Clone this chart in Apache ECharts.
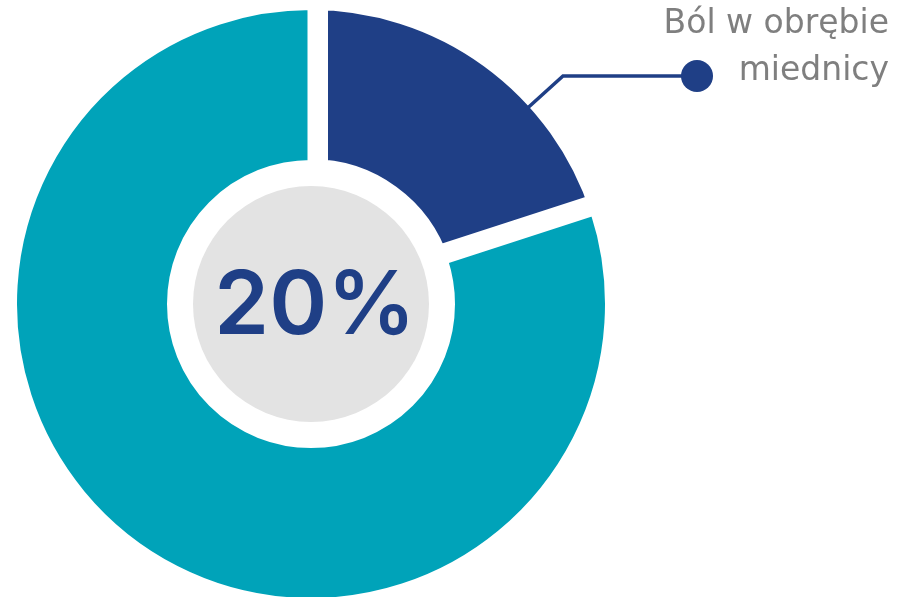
<!DOCTYPE html>
<html>
<head>
<meta charset="utf-8">
<script src="https://cdn.jsdelivr.net/npm/echarts@6/dist/echarts.min.js"></script>
<style>html,body{margin:0;padding:0;background:#fff}#c{width:905px;height:597px}</style>
</head>
<body>
<div id="c"></div>
<script>
const categories = ['Ból w obrębie\nmiednicy', 'Pozostałe'];
const values = [20, 80];
const colors = ['#1f3f86', '#00a3b9'];
const centerLabel = values[0] + '%';

// layout constants (not data)
const CX = 311, CY = 304, R_VIS = 294;
const DOT_X = 697, DOT_Y = 76, DOT_R = 16, LEN2 = 134;

const chart = echarts.init(document.getElementById('c'), null, {renderer: 'canvas'});
chart.setOption({
  animation: false,
  backgroundColor: '#ffffff',
  title: {
    text: categories[0],
    left: 889,
    top: 1,
    padding: 0,
    textAlign: 'right',
    textStyle: {
      fontFamily: 'DejaVu Sans',
      fontWeight: 400,
      fontSize: 33,
      lineHeight: 47,
      color: '#7f7f7f'
    }
  },
  series: [
    // highlighted slice (inset by its white border)
    {
      type: 'pie',
      center: [CX, CY],
      radius: [128, 311],
      startAngle: 90,
      silent: true,
      z: 2,
      label: {show: false},
      labelLine: {show: false},
      data: categories.map((c, i) => ({
        name: c,
        value: values[i],
        itemStyle: i === 0
          ? {color: colors[0], borderColor: '#ffffff', borderWidth: 34}
          : {color: 'rgba(0,0,0,0)', borderWidth: 0}
      }))
    },
    // remaining slice (thin white border) + leader for the highlighted slice
    {
      type: 'pie',
      center: [CX, CY],
      radius: [140.5, 297.5],
      startAngle: 90,
      silent: true,
      z: 3,
      data: categories.map((c, i) => ({
        name: c,
        value: values[i],
        itemStyle: i === 1
          ? {color: colors[1], borderColor: '#ffffff', borderWidth: 7}
          : {color: 'rgba(0,0,0,0)', borderWidth: 0},
        label: i === 0 ? {
          show: true,
          position: 'outside',
          formatter: ' ',
          width: DOT_R * 2,
          height: DOT_R * 2,
          borderRadius: DOT_R,
          backgroundColor: colors[0],
          padding: 0,
          fontSize: 10
        } : {show: false},
        labelLine: i === 0 ? {
          show: true,
          length: 20,
          length2: LEN2,
          lineStyle: {color: colors[0], width: 3.5}
        } : {show: false}
      })),
      labelLayout: function (p) {
        if (p.dataIndex !== 0) return {};
        const end = [DOT_X, DOT_Y];
        const turn = [DOT_X - LEN2, DOT_Y];
        const dx = turn[0] - CX, dy = turn[1] - CY;
        const d = Math.sqrt(dx * dx + dy * dy);
        const start = [CX + dx / d * (R_VIS - 3), CY + dy / d * (R_VIS - 3)];
        return {
          x: DOT_X, y: DOT_Y, align: 'center', verticalAlign: 'middle',
          labelLinePoints: [start, turn, end]
        };
      }
    },
    // grey centre disc with the percentage
    {
      type: 'pie',
      center: [CX, CY],
      radius: [0, 118],
      silent: true,
      z: 5,
      data: [{value: 1, name: 'center'}],
      itemStyle: {color: '#e3e3e3'},
      label: {
        show: true,
        position: 'center',
        formatter: () => centerLabel,
        fontFamily: 'Inter',
        fontWeight: 600,
        fontSize: 88,
        color: '#1f3f86',
        offset: [4, 4]
      },
      labelLine: {show: false}
    }
  ]
});
</script>
</body>
</html>
